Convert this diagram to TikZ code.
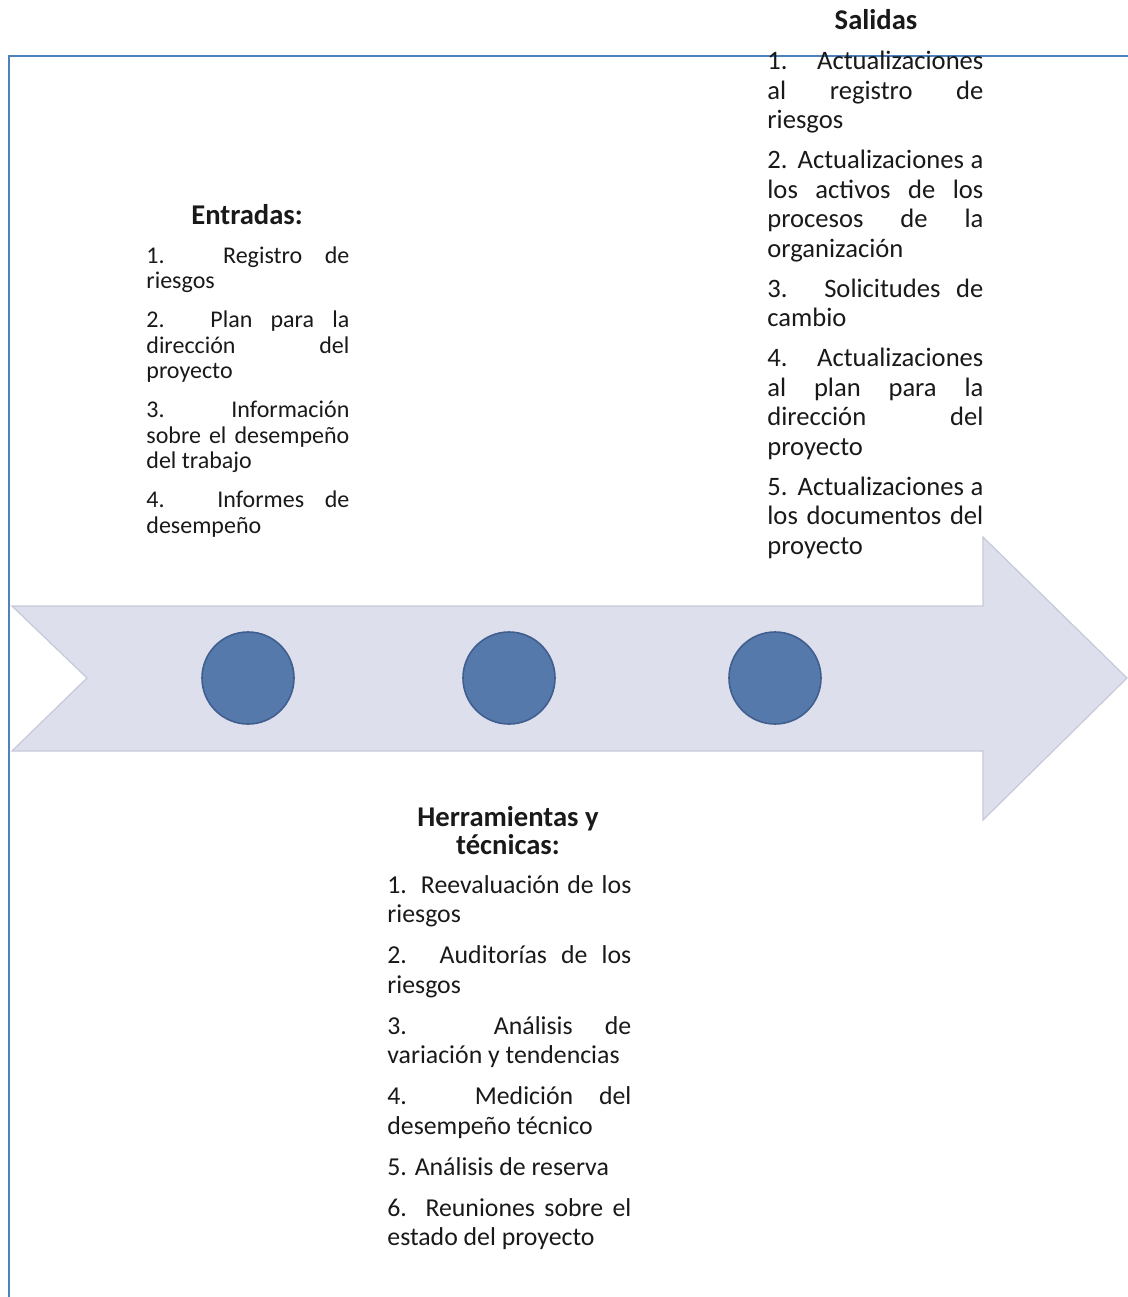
\documentclass[tikz,border=0pt]{standalone}
\usepackage{fontspec}
\setmainfont{Carlito}
\definecolor{frameblue}{RGB}{79,129,189}
\definecolor{arrowfill}{RGB}{221,223,236}
\definecolor{arrowedge}{RGB}{198,201,216}
\definecolor{dotblue}{RGB}{86,121,171}
\definecolor{dotedge}{RGB}{64,94,142}
\begin{document}
\begin{tikzpicture}[x=0.5pt, y=-0.5pt,
  heading/.style={font=\fontsize{14.3}{14}\selectfont\bfseries, align=center, inner sep=0pt, text=black!90},
  itemlist/.style={align=justify, anchor=north west, inner sep=0pt, text=black!90},
  dot/.style={circle, fill=dotblue, draw=dotedge, line width=0.8pt, minimum size=46pt, inner sep=0pt}]
  \useasboundingbox (0,0) rectangle (1128,1297);
  % frame
  \draw[frameblue, line width=1.3pt] (9,1297) -- (9,56) -- (1128,56);
  % process arrow with its three steps
  \draw[fill=arrowfill, draw=arrowedge, line width=0.6pt] (12,606) -- (983,606) -- (983,537) -- (1127,678)
    -- (983,820) -- (983,751) -- (12,751) -- (87,678) -- cycle;
  \foreach \x/\n in {248/stepa, 509/stepb, 775/stepc}
    \node[dot] (\n) at (\x,678) {};
  % inputs
  \node[heading] (intitle) at (247,215) {Entradas:};
  \node[itemlist, text width=101.5pt, font=\fontsize{12}{12.85}\selectfont,
    execute at begin node={\setlength{\parindent}{0pt}\setlength{\parskip}{6.5pt}\hyphenpenalty=10000}] (inputs) at (146,246)
    {1. Registro de\linebreak riesgos\par
     2. Plan para la\linebreak dirección del\linebreak proyecto\par
     3. Información\linebreak sobre el desempeño\linebreak del trabajo\par
     4. Informes de\linebreak desempeño};
  % outputs
  \node[heading] (outtitle) at (876,20) {Salidas};
  \node[itemlist, text width=108pt, font=\fontsize{13.3}{14.75}\selectfont,
    execute at begin node={\setlength{\parindent}{0pt}\setlength{\parskip}{5.25pt}\hyphenpenalty=10000}] (outputs) at (767,51)
    {1. Actualizaciones\linebreak al registro de\linebreak riesgos\par
     2. Actualizaciones a\linebreak los activos de los\linebreak procesos de la\linebreak organización\par
     3. Solicitudes de\linebreak cambio\par
     4. Actualizaciones\linebreak al plan para la\linebreak dirección del\linebreak proyecto\par
     5. Actualizaciones a\linebreak los documentos del\linebreak proyecto};
  % tools and techniques
  \node[heading] (tooltitle) at (508,831) {Herramientas y\\técnicas:};
  \node[itemlist, text width=122pt, font=\fontsize{12.9}{14.75}\selectfont,
    execute at begin node={\setlength{\parindent}{0pt}\setlength{\parskip}{5.75pt}\hyphenpenalty=10000}] (tools) at (387,875)
    {1. Reevaluación de los\linebreak riesgos\par
     2. Auditorías de los\linebreak riesgos\par
     3. Análisis de\linebreak variación y tendencias\par
     4. Medición del\linebreak desempeño técnico\par
     5. Análisis de reserva\par
     6. Reuniones sobre el\linebreak estado del proyecto};
\end{tikzpicture}
\end{document}
